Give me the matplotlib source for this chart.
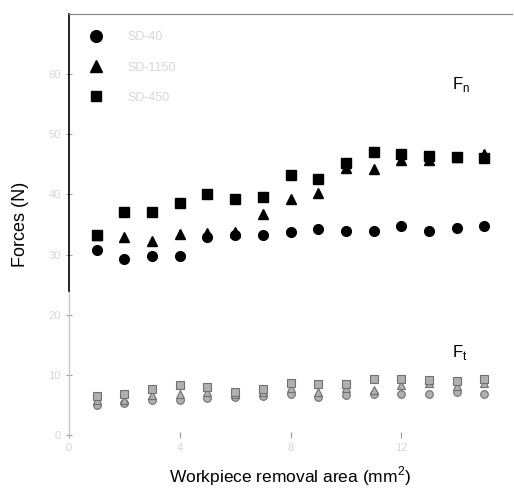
"""
Forces normale (Fn) et tangentielle (Ft) en fonction de l'aire enlevée,
pour trois meules. Rendu façon figure scannée : axes et textes secondaires pâles.
"""
import numpy as np
import matplotlib
matplotlib.use("Agg")
import matplotlib.pyplot as plt

plt.rcParams["font.family"] = ["Liberation Sans", "DejaVu Sans"]

# Données
area = np.arange(1, 16)
labels = ["SD-40", "SD-1150", "SD-450"]

fn_circle = [30.7, 29.3, 29.8, 29.8, 33.0, 33.3, 33.3, 33.8, 34.3, 34.0, 34.0, 34.8, 34.0, 34.5, 34.8]
fn_triangle = [33.3, 33.0, 32.3, 33.4, 33.6, 33.8, 36.7, 39.2, 40.3, 44.4, 44.2, 45.8, 45.8, 46.2, 46.8]
fn_square = [33.2, 37.1, 37.1, 38.6, 40.0, 39.3, 39.6, 43.2, 42.6, 45.3, 47.1, 46.8, 46.4, 46.3, 46.1]

ft_circle = [5.0, 5.3, 5.9, 5.8, 6.2, 6.3, 6.5, 6.8, 6.4, 6.7, 6.8, 6.8, 6.8, 7.2, 6.9]
ft_triangle = [5.8, 5.9, 6.7, 6.8, 7.1, 6.8, 7.1, 7.8, 7.2, 7.8, 7.5, 8.3, 8.6, 8.1, 8.6]
ft_square = [6.55, 6.9, 7.6, 8.3, 7.9, 7.2, 7.6, 8.6, 8.5, 8.5, 9.3, 9.3, 9.2, 8.9, 9.3]

y_ticks = [0, 10, 20, 30, 40, 50, 60]
x_ticks = [0, 4, 8, 12]

# Style
_FAINT = "#d6d6d6"
_FT_FACE = "#b0b0b0"
_FT_EDGE = "#707070"

fig = plt.figure(figsize=(5.14, 4.98), dpi=100)
ax = fig.add_axes([69 / 514, 1 - 435 / 498, (512 - 69) / 514, (435 - 14) / 498])

# Fn : marqueurs noirs pleins
ax.plot(area, fn_circle, "o", color="k", ms=7, label=labels[0])
ax.plot(area, fn_triangle, "^", color="k", ms=7.5, label=labels[1])
ax.plot(area, fn_square, "s", color="k", ms=6.5, label=labels[2])

# Ft : marqueurs gris tramés
ax.plot(area, ft_circle, "o", mfc=_FT_FACE, mec=_FT_EDGE, mew=0.8, ms=5.5)
ax.plot(area, ft_triangle, "^", mfc=_FT_FACE, mec=_FT_EDGE, mew=0.8, ms=6)
ax.plot(area, ft_square, "s", mfc=_FT_FACE, mec=_FT_EDGE, mew=0.8, ms=5.5)

ax.text(13.85, 58.2, r"F$_\mathregular{n}$", fontsize=12, ha="left", va="center")
ax.text(13.85, 13.7, r"F$_\mathregular{t}$", fontsize=12, ha="left", va="center")

ax.set_xlim(0, 16)
ax.set_ylim(0, 70)
ax.set_xticks(x_ticks)
ax.set_yticks(y_ticks)
ax.tick_params(axis="both", direction="inout", length=5, width=0.8,
               colors="#9a9a9a", labelcolor=_FAINT, labelsize=8)

for side in ("right", "bottom"):
    ax.spines[side].set_visible(False)
ax.spines["top"].set_color("#8a8a8a")
ax.spines["top"].set_linewidth(0.9)
ax.spines["left"].set_color("k")
ax.spines["left"].set_linewidth(1.2)
ax.spines["left"].set_bounds(24, 70)
ax.plot([0, 0], [0, 24], color="#c8c8c8", lw=1.0, clip_on=False)

ax.set_ylabel("Forces (N)", fontsize=13, labelpad=14)
ax.set_xlabel(r"Workpiece removal area (mm$^\mathregular{2}$)", fontsize=12.5, labelpad=8)

leg = ax.legend(loc="upper left", frameon=False, fontsize=9, labelspacing=1.45,
                handletextpad=2.0, borderaxespad=1.0, handlelength=1.0,
                markerscale=1.2, bbox_to_anchor=(0.007, 1.0))
for t in leg.get_texts():
    t.set_color(_FAINT)

fig.savefig("out.png", dpi=100)
